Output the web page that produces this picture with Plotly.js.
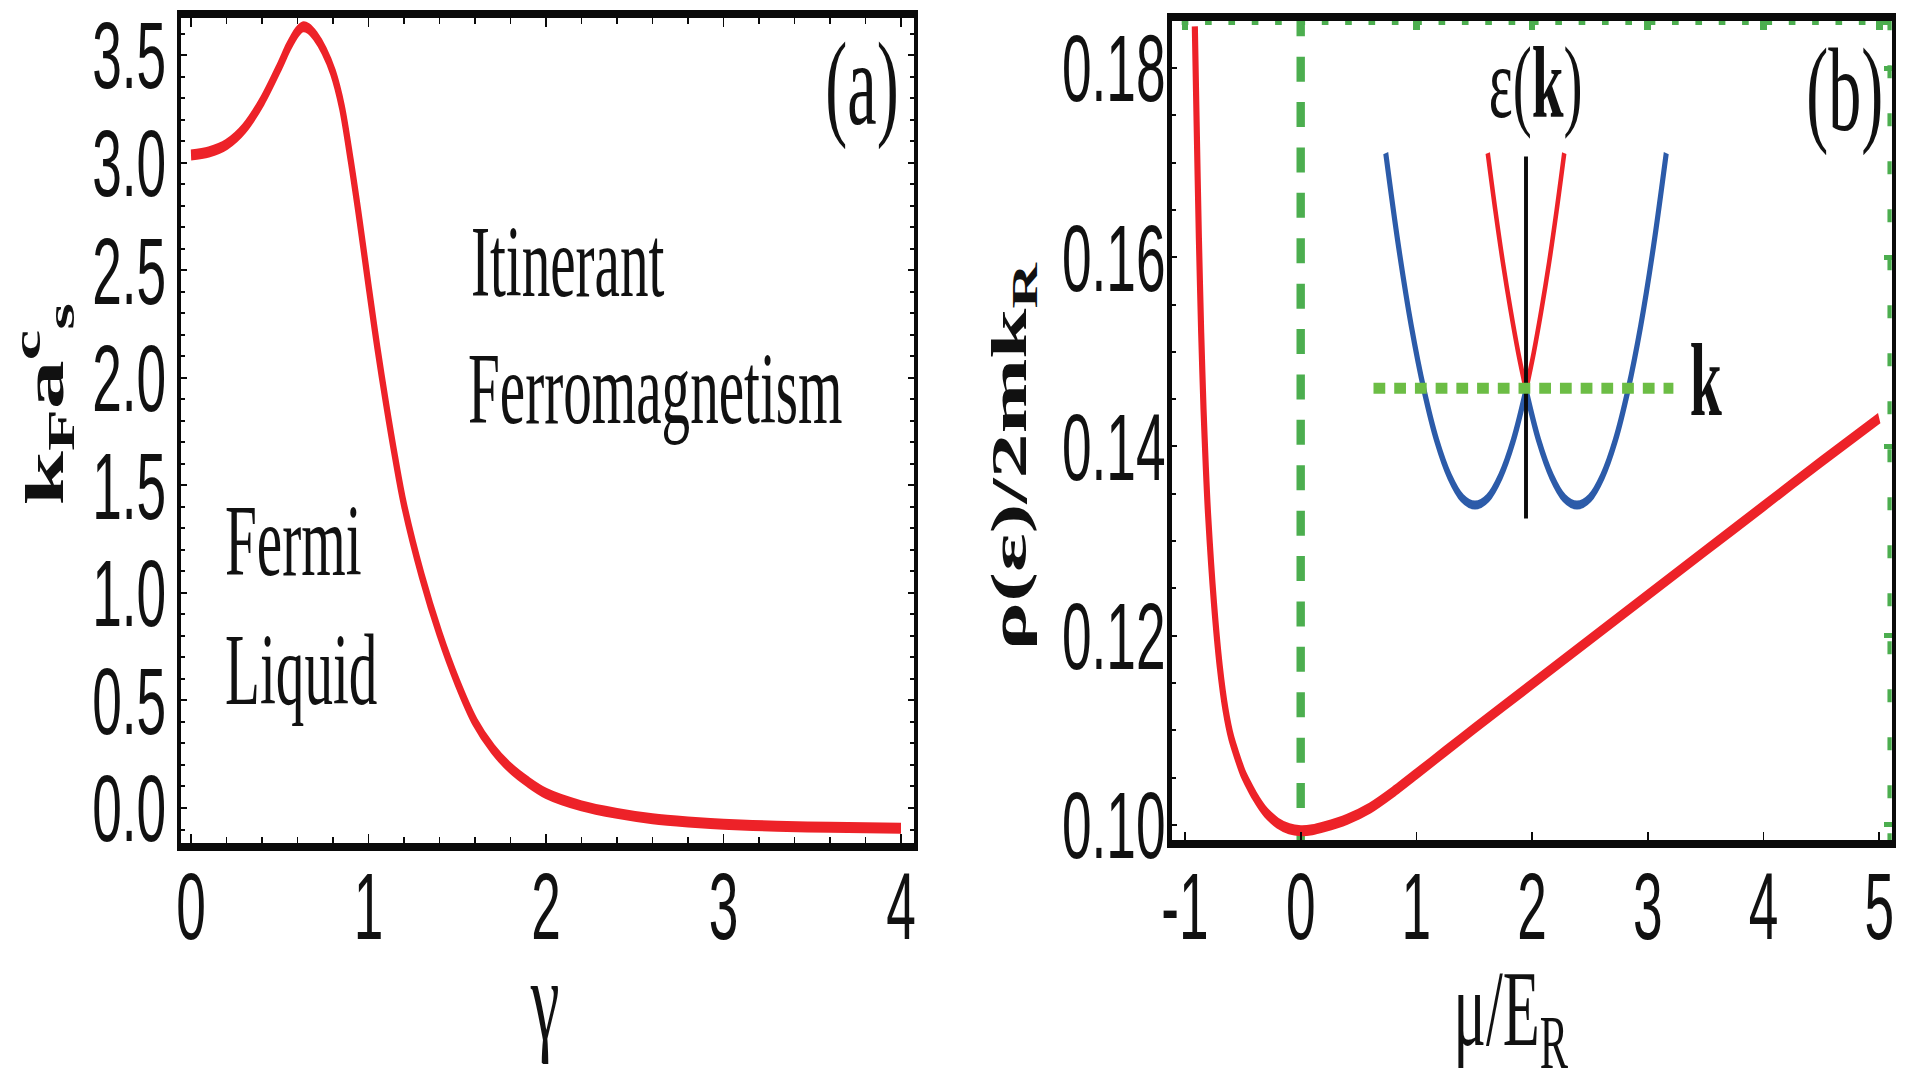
<!DOCTYPE html>
<html><head><meta charset="utf-8">
<script src="https://cdn.plot.ly/plotly-3.0.1.min.js"></script>
<style>
html,body{margin:0;padding:0;background:#fff;overflow:hidden;}
#wrap{position:absolute;left:0;top:0;width:1906px;height:1086px;overflow:hidden;background:#fff;}
#plot{width:3404px;height:1086px;transform:scaleX(0.559929);transform-origin:0 0;}
</style></head>
<body><div id="wrap"><div id="plot"></div></div>
<script>
// ---------- panel (a) : k_F a_s^c versus gamma ----------
const gammaValues = [0, 0.1, 0.2, 0.3, 0.4, 0.5, 0.55, 0.6, 0.63, 0.66, 0.7, 0.75, 0.8, 0.85, 0.9, 0.95, 1.0, 1.05, 1.1, 1.15, 1.2, 1.3, 1.4, 1.5, 1.6, 1.7, 1.8, 1.9, 2.0, 2.2, 2.4, 2.6, 2.8, 3.0, 3.3, 3.6, 4.0];
const kFaValues   = [3.036, 3.05, 3.085, 3.16, 3.285, 3.45, 3.54, 3.61, 3.632, 3.625, 3.59, 3.52, 3.42, 3.26, 3.01, 2.73, 2.43, 2.14, 1.875, 1.63, 1.41, 1.08, 0.81, 0.585, 0.40, 0.275, 0.185, 0.12, 0.068, 0.01, -0.025, -0.05, -0.065, -0.075, -0.085, -0.09, -0.094];
const xTickValsA = [0, 1, 2, 3, 4];
const xTickTextA = ['0', '1', '2', '3', '4'];
const yTickValsA = [0, 0.5, 1.0, 1.5, 2.0, 2.5, 3.0, 3.5];
const yTickTextA = ['0.0', '0.5', '1.0', '1.5', '2.0', '2.5', '3.0', '3.5'];

// ---------- panel (b) : density of states versus mu ----------
const muValues  = [-0.915, -0.9, -0.88, -0.86, -0.84, -0.82, -0.8, -0.75, -0.7, -0.65, -0.6, -0.5, -0.4, -0.3, -0.2, -0.1, 0.0, 0.1, 0.2, 0.4, 0.6, 0.8, 1.0, 1.25, 1.5, 2.0, 2.5, 3.0, 3.5, 4.0, 4.5, 5.0];
const rhoValues = [0.1844, 0.1745, 0.1620, 0.1520, 0.1440, 0.1378, 0.1327, 0.1235, 0.1168, 0.1122, 0.1092, 0.1055, 0.1031, 0.1013, 0.1002, 0.0996, 0.0994, 0.0995, 0.0998, 0.1006, 0.1018, 0.1035, 0.1054, 0.1078, 0.1102, 0.1149, 0.1196, 0.1243, 0.1290, 0.1337, 0.1384, 0.1430];
const xTickValsB = [-1, 0, 1, 2, 3, 4, 5];
const xTickTextB = ['-1', '0', '1', '2', '3', '4', '5'];
const yTickValsB = [0.10, 0.12, 0.14, 0.16, 0.18];
const yTickTextB = ['0.10', '0.12', '0.14', '0.16', '0.18'];
// green guide lines of panel (b)
const muZeroLineX = [0, 0];
const muZeroLineY = [0.1860, 0.0975];
const greenTopX = [-1.0285, 5.093];
const greenTopY = [0.18479, 0.18479];
const greenRightX = [5.093, 5.093];
const greenRightY = [0.18537, 0.0975];

// ---------- inset : dispersion eps(k) ----------
const blueLeftK  = [-2.75, -2.5, -2.25, -2.0, -1.75, -1.5, -1.25, -1.0, -0.75, -0.5, -0.25, 0];
const blueLeftE  = [3.06, 2.25, 1.56, 1.0, 0.56, 0.25, 0.06, 0.0, 0.06, 0.25, 0.56, 1.0];
const blueRightK = [0, 0.25, 0.5, 0.75, 1.0, 1.25, 1.5, 1.75, 2.0, 2.25, 2.5, 2.75];
const blueRightE = [1.0, 0.56, 0.25, 0.06, 0.0, 0.06, 0.25, 0.56, 1.0, 1.56, 2.25, 3.06];
const redLeftK   = [-0.75, -0.6, -0.45, -0.3, -0.15, 0];
const redLeftE   = [3.06, 2.56, 2.10, 1.69, 1.32, 1.0];
const redRightK  = [0, 0.15, 0.3, 0.45, 0.6, 0.75];
const redRightE  = [1.0, 1.32, 1.69, 2.10, 2.56, 3.06];
const insetAxisK = [0, 0];
const insetAxisE = [3.03, -0.116];
const insetLevelK = [-2.99, 2.89];
const insetLevelE = [1.015, 1.015];

const RED = 'rgb(237,34,40)';
const GREEN = '#4cae4f';
const LGREEN = '#6cbd45';
const BLUE = '#2c5ba9';
const INK = '#0a0a0a';

const traces = [
  {x: gammaValues, y: kFaValues, xaxis: 'x', yaxis: 'y', mode: 'lines', line: {color: RED, width: 11, shape: 'spline', smoothing: 0.9}},
  {x: muZeroLineX, y: muZeroLineY, xaxis: 'x2', yaxis: 'y2', mode: 'lines', line: {color: GREEN, width: 15, dash: '25px,20.4px'}},
  {x: muValues, y: rhoValues, xaxis: 'x2', yaxis: 'y2', mode: 'lines', line: {color: RED, width: 11, shape: 'spline', smoothing: 0.6}},
  {x: greenTopX, y: greenTopY, xaxis: 'x3', yaxis: 'y3', mode: 'lines', line: {color: GREEN, width: 4.5, dash: '11.9px,29.8px'}},
  {x: greenRightX, y: greenRightY, xaxis: 'x3', yaxis: 'y3', mode: 'lines', line: {color: GREEN, width: 9, dash: '13px,35px'}},
  {x: blueLeftK, y: blueLeftE, xaxis: 'x4', yaxis: 'y4', mode: 'lines', line: {color: BLUE, width: 9, shape: 'spline'}},
  {x: blueRightK, y: blueRightE, xaxis: 'x4', yaxis: 'y4', mode: 'lines', line: {color: BLUE, width: 9, shape: 'spline'}},
  {x: redLeftK, y: redLeftE, xaxis: 'x4', yaxis: 'y4', mode: 'lines', line: {color: RED, width: 8, shape: 'spline'}},
  {x: redRightK, y: redRightE, xaxis: 'x4', yaxis: 'y4', mode: 'lines', line: {color: RED, width: 8, shape: 'spline'}},
  {x: insetAxisK, y: insetAxisE, xaxis: 'x4', yaxis: 'y4', mode: 'lines', line: {color: INK, width: 7}},
  {x: insetLevelK, y: insetLevelE, xaxis: 'x4', yaxis: 'y4', mode: 'lines', line: {color: LGREEN, width: 11, dash: '21px,16px'}}
];

const TICKFONT = {family: 'Liberation Sans', size: 95, color: '#111'};
const SERIF = 'Liberation Serif';
const W = 1906, H = 1086;
function px(x) { return x / W; }
function py(y) { return 1 - y / H; }

const layout = {
  width: 3404, height: 1086,
  margin: {l: 0, r: 0, t: 0, b: 0},
  paper_bgcolor: '#fff', plot_bgcolor: 'rgba(0,0,0,0)',
  showlegend: false,
  font: {family: 'Liberation Sans', color: '#111'},
  xaxis: {
    domain: [0.09507, 0.47943], range: [-0.0552, 4.072], anchor: 'y',
    showline: true, linewidth: 8, linecolor: INK, mirror: 'ticks',
    ticks: 'inside', ticklen: 9, tickwidth: 3, tickcolor: INK,
    tickmode: 'array', tickvals: xTickValsA, ticktext: xTickTextA, tickfont: TICKFONT,
    minor: {tick0: 0, dtick: 0.2, ticks: 'inside', ticklen: 6, tickwidth: 2.5, tickcolor: INK},
    ticklabelstandoff: -26, ticklabeloverflow: 'allow',
    showgrid: false, zeroline: false
  },
  yaxis: {
    domain: [0.22330, 0.98343], range: [-0.165, 3.673], anchor: 'x',
    showline: true, linewidth: 8, linecolor: INK, mirror: 'ticks',
    ticks: 'inside', ticklen: 10, tickwidth: 2, tickcolor: INK,
    tickmode: 'array', tickvals: yTickValsA, ticktext: yTickTextA, tickfont: TICKFONT,
    minor: {tick0: 0, dtick: 0.1, ticks: 'inside', ticklen: 7, tickwidth: 2, tickcolor: INK},
    ticklabelstandoff: 0, ticklabeloverflow: 'allow',
    showgrid: false, zeroline: false
  },
  xaxis2: {
    domain: [0.61474, 0.99250], range: [-1.115, 5.108], anchor: 'y2',
    showline: true, linewidth: 8, linecolor: INK, mirror: true,
    ticks: 'inside', ticklen: 8, tickwidth: 3, tickcolor: INK,
    tickmode: 'array', tickvals: xTickValsB, ticktext: xTickTextB, tickfont: TICKFONT,
    ticklabelstandoff: -23, ticklabeloverflow: 'allow',
    showgrid: false, zeroline: false
  },
  yaxis2: {
    domain: [0.22652, 0.98112], range: [0.09841, 0.18502], anchor: 'x2',
    showline: true, linewidth: 8, linecolor: INK, mirror: true,
    ticks: 'inside', ticklen: 10, tickwidth: 2, tickcolor: INK,
    tickmode: 'array', tickvals: yTickValsB, ticktext: yTickTextB, tickfont: TICKFONT,
    minor: {tick0: 0.10, dtick: 0.005, ticks: 'inside', ticklen: 7, tickwidth: 2, tickcolor: INK},
    ticklabelstandoff: -16, ticklabeloverflow: 'allow',
    showgrid: false, zeroline: false
  },
  xaxis3: {
    overlaying: 'x2', anchor: 'y3', side: 'top', range: [-1.115, 5.108],
    showline: false, ticks: 'inside', ticklen: 9, tickwidth: 12, tickcolor: GREEN,
    tickmode: 'array', tickvals: xTickValsB, showticklabels: false,
    showgrid: false, zeroline: false
  },
  yaxis3: {
    overlaying: 'y2', anchor: 'x3', side: 'right', range: [0.09841, 0.18502],
    showline: false, ticks: 'inside', ticklen: 14, tickwidth: 5, tickcolor: GREEN,
    tickmode: 'array', tickvals: yTickValsB, showticklabels: false,
    showgrid: false, zeroline: false
  },
  xaxis4: {domain: [0.70304, 0.89822], range: [-3.647, 3.647], anchor: 'y4', visible: false, showgrid: false, zeroline: false},
  yaxis4: {domain: [0.50276, 0.87109], range: [-0.304, 3.174], anchor: 'x4', visible: false, showgrid: false, zeroline: false},
  annotations: [
    {text: '(a)', x: px(862), y: py(85), xref: 'paper', yref: 'paper', xanchor: 'center', yanchor: 'middle', showarrow: false, font: {family: SERIF, size: 118, color: '#111'}},
    {text: '(b)', x: px(1845), y: py(91), xref: 'paper', yref: 'paper', xanchor: 'center', yanchor: 'middle', showarrow: false, font: {family: SERIF, size: 118, color: '#111'}},
    {text: 'Itinerant', x: px(470), y: py(261), xref: 'paper', yref: 'paper', xanchor: 'left', yanchor: 'middle', showarrow: false, font: {family: SERIF, size: 102, color: '#111'}},
    {text: 'Ferromagnetism', x: px(467), y: py(388), xref: 'paper', yref: 'paper', xanchor: 'left', yanchor: 'middle', showarrow: false, font: {family: SERIF, size: 102, color: '#111'}},
    {text: 'Fermi', x: px(224), y: py(540), xref: 'paper', yref: 'paper', xanchor: 'left', yanchor: 'middle', showarrow: false, font: {family: SERIF, size: 102, color: '#111'}},
    {text: 'Liquid', x: px(224), y: py(669), xref: 'paper', yref: 'paper', xanchor: 'left', yanchor: 'middle', showarrow: false, font: {family: SERIF, size: 102, color: '#111'}},
    {text: 'ε(<b>k</b>)', x: px(1536), y: py(82.8), xref: 'paper', yref: 'paper', xanchor: 'center', yanchor: 'middle', showarrow: false, font: {family: SERIF, size: 102, color: '#111'}},
    {text: '<b>k</b>', x: px(1706), y: py(380), xref: 'paper', yref: 'paper', xanchor: 'center', yanchor: 'middle', showarrow: false, font: {family: SERIF, size: 103, color: '#111'}},
    {text: 'γ', x: px(544.6), y: py(1000), xref: 'paper', yref: 'paper', xanchor: 'center', yanchor: 'middle', showarrow: false, font: {family: SERIF, size: 116, color: '#111'}},
    {text: 'μ/E<sub>R</sub>', x: px(1511), y: py(1016), xref: 'paper', yref: 'paper', xanchor: 'center', yanchor: 'middle', showarrow: false, font: {family: SERIF, size: 108, color: '#111'}},
    {text: '<b>k<sub>F</sub>a<sup>c</sup><sub>s</sub></b>', textangle: -90, x: px(44), y: py(404), xref: 'paper', yref: 'paper', xanchor: 'center', yanchor: 'middle', showarrow: false, font: {family: SERIF, size: 98, color: '#111'}},
    {text: '<b>ρ(ε)/2mk<sub>R</sub></b>', textangle: -90, x: px(1013), y: py(456), xref: 'paper', yref: 'paper', xanchor: 'center', yanchor: 'middle', showarrow: false, font: {family: SERIF, size: 90, color: '#111'}}
  ]
};

Plotly.newPlot('plot', traces, layout, {staticPlot: true, displayModeBar: false});
</script></body></html>
